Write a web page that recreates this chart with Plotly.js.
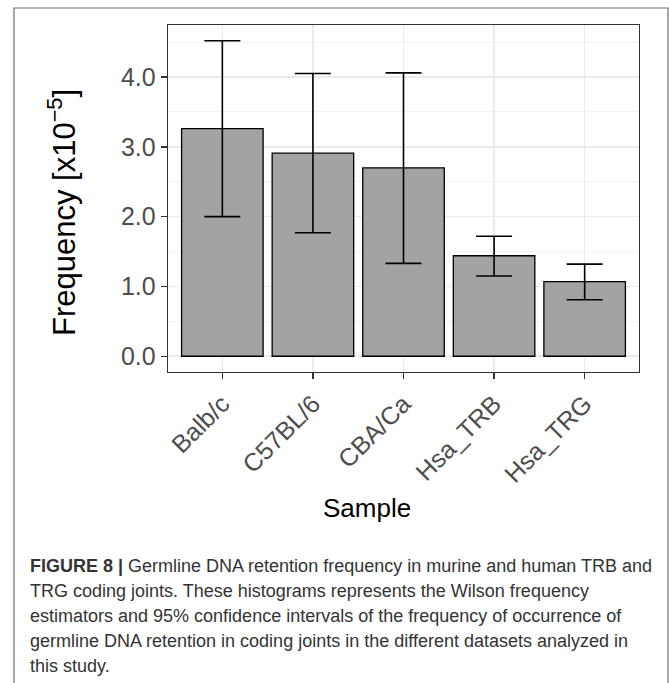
<!DOCTYPE html>
<html>
<head>
<meta charset="utf-8">
<script src="https://cdn.plot.ly/plotly-3.0.1.min.js"></script>
<style>
  html, body { margin: 0; padding: 0; background: #ffffff; }
  #chart { width: 669px; height: 683px; }
</style>
</head>
<body>
<div id="chart"></div>
<script>
// ---- data ----
var samples = ["Balb/c", "C57BL/6", "CBA/Ca", "Hsa_TRB", "Hsa_TRG"];
var frequency = [3.26, 2.91, 2.70, 1.44, 1.07];      // x10^-5
var ciUpper   = [4.52, 4.05, 4.06, 1.72, 1.32];
var ciLower   = [2.00, 1.77, 1.33, 1.15, 0.81];
var yTickVals = [0, 1, 2, 3, 4];
var yTickText = ["0.0", "1.0", "2.0", "3.0", "4.0"];
var captionBold = "FIGURE 8 |";
var captionLines = [
  " Germline DNA retention frequency in murine and human TRB and",
  "TRG coding joints. These histograms represents the Wilson frequency",
  "estimators and 95% confidence intervals of the frequency of occurrence of",
  "germline DNA retention in coding joints in the different datasets analyzed in",
  "this study."
];

// ---- layout geometry (pixels) ----
var W = 669, H = 683;
var L = 168, R = 639, T = 25, B = 372;
function px2x(px) { return (px - L) / (R - L); }
function py2y(py) { return (B - py) / (B - T); }

var errPlus = frequency.map(function (v, i) { return ciUpper[i] - v; });
var errMinus = frequency.map(function (v, i) { return v - ciLower[i]; });

var yMax = Math.max.apply(null, ciUpper);
var pad = yMax * 0.05;

var trace = {
  type: "bar",
  x: samples,
  y: frequency,
  marker: { color: "#A3A3A3", line: { color: "#000000", width: 1.3 } },
  error_y: {
    type: "data", symmetric: false,
    array: errPlus, arrayminus: errMinus,
    color: "#000000", thickness: 1.6, width: 18
  },
  hoverinfo: "skip"
};

var font = "Liberation Sans, Arial, Helvetica, sans-serif";
var capFont = "Liberation Sans, Arial, sans-serif";

var annotations = [
  {
    xref: "paper", yref: "paper", x: px2x(367), y: py2y(508),
    xanchor: "center", yanchor: "middle", showarrow: false,
    text: "Sample", font: { family: font, size: 26, color: "#000000" }
  },
  {
    xref: "paper", yref: "paper", x: px2x(62), y: py2y(213),
    xanchor: "center", yanchor: "middle", showarrow: false, textangle: -90,
    text: "Frequency [x10<sup>−5</sup>]", font: { family: font, size: 31, color: "#000000" }
  }
];
var lineY = [566, 591, 616, 641, 666];
captionLines.forEach(function (t, i) {
  annotations.push({
    xref: "paper", yref: "paper", x: px2x(28), y: py2y(lineY[i]),
    xanchor: "left", yanchor: "middle", showarrow: false, align: "left",
    text: (i === 0 ? "<b>" + captionBold + "</b>" : "") + t,
    font: { family: capFont, size: 18, color: "#333333" }
  });
});

var layout = {
  width: W, height: H,
  margin: { l: L, r: W - R, t: T, b: H - B, pad: 0 },
  paper_bgcolor: "#ffffff", plot_bgcolor: "#ffffff",
  showlegend: false,
  bargap: 0.1,
  xaxis: {
    type: "category", range: [-0.6, samples.length - 0.4],
    showgrid: true, gridcolor: "#EBEBEB", gridwidth: 1.5,
    showline: true, linecolor: "#333333", linewidth: 1.3, mirror: true,
    ticks: "outside", ticklen: 6, tickwidth: 1.3, tickcolor: "#333333",
    tickangle: -45, tickfont: { family: font, size: 25, color: "#4D4D4D" },
    zeroline: false, fixedrange: true
  },
  yaxis: {
    range: [-pad, yMax + pad],
    tickvals: yTickVals, ticktext: yTickText,
    showgrid: true, gridcolor: "#EBEBEB", gridwidth: 1.5,
    minor: { dtick: 0.5, tick0: 0, showgrid: true, gridcolor: "#F2F2F2", gridwidth: 1, ticks: "" },
    showline: true, linecolor: "#333333", linewidth: 1.3, mirror: true,
    ticks: "outside", ticklen: 6, tickwidth: 1.3, tickcolor: "#333333",
    tickfont: { family: font, size: 25, color: "#4D4D4D" },
    zeroline: false, fixedrange: true
  },
  shapes: [
    {
      type: "rect", xref: "paper", yref: "paper", layer: "below",
      x0: px2x(14), x1: px2x(668), y0: py2y(700), y1: py2y(8),
      line: { color: "#6E6E6E", width: 1.2 }, fillcolor: "rgba(0,0,0,0)"
    }
  ],
  annotations: annotations
};

Plotly.newPlot("chart", [trace], layout, { staticPlot: true, displayModeBar: false });
</script>
</body>
</html>
